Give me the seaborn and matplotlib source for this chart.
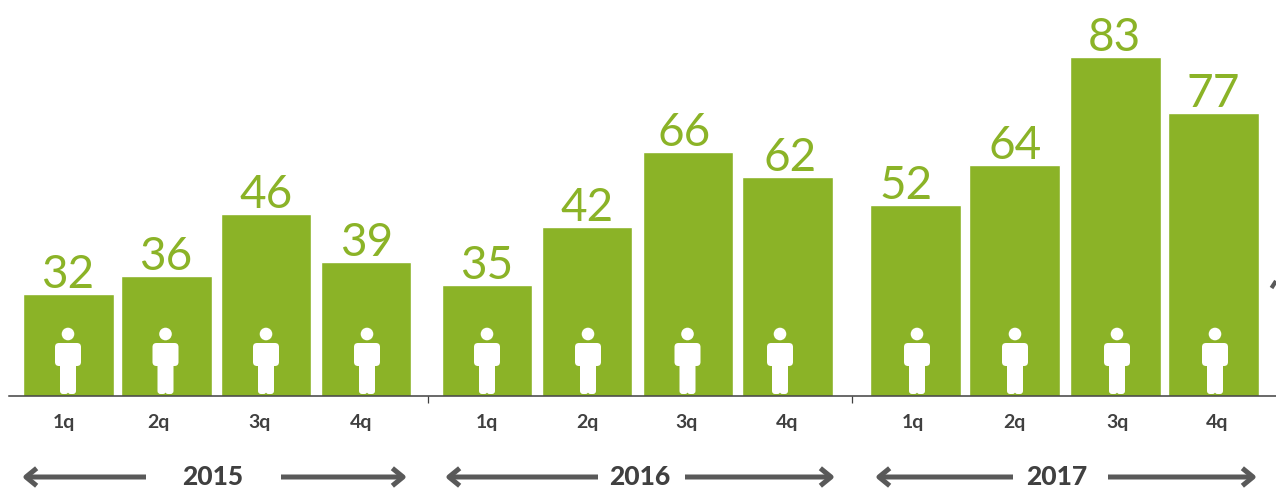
import pandas as pd
import seaborn as sns
import matplotlib.pyplot as plt
from matplotlib.patches import Circle, FancyBboxPatch

# values printed over the bars
years = ['2015', '2016', '2017']
quarters = ['1q', '2q', '3q', '4q'] * 3
values = [32, 36, 46, 39, 35, 42, 66, 62, 52, 64, 83, 77]
# the bars are not drawn to scale with the labels, so heights are read separately
bar_heights = [102, 120, 182, 134, 111, 169, 244, 219, 191, 231, 339, 283]

# layout, in pixels of the 1276x489 picture
bar_x = [68.5, 166.5, 266, 366, 487, 587, 688, 787.5, 915.5, 1014.5, 1115.5, 1213.5]
value_x = [68, 166, 266, 367, 487, 587, 684, 790, 906, 1015, 1114, 1213]
icon_x = [68, 165.5, 266, 367, 487, 588, 687.5, 780, 917, 1015, 1117, 1215]
tick_x = [64, 158, 260, 361, 487, 587, 687, 787, 913, 1014, 1118, 1217]
sep_x = [427.5, 852]
year_x = [213, 640, 1057]
arrows = [(146, 22), (281, 407), (598, 445), (685, 835), (1013, 875), (1108, 1257)]

GREEN = '#8bb327'
DARK = '#404040'
ARROW = '#595959'

sns.set_theme(style='white')
plt.rcParams['font.family'] = ['Lato', 'DejaVu Sans']

df = pd.DataFrame({'x': bar_x, 'height': bar_heights})

fig = plt.figure(figsize=(12.76, 4.89), dpi=100)
ax = fig.add_axes([0, 0, 1, 1])
sns.barplot(data=df, x='x', y='height', native_scale=True, width=0.92,
            color=GREEN, saturation=1, errorbar=None, ax=ax, zorder=1)

ax.set_xlim(0, 1276)
ax.set_ylim(-92, 397)
ax.set_xlabel('')
ax.set_ylabel('')
ax.set_yticks([])
ax.patch.set_alpha(0)

# baseline and quarter labels
sns.despine(ax=ax, left=True)
ax.spines['bottom'].set_position(('data', 0))
ax.spines['bottom'].set_bounds(9, 1276)
ax.spines['bottom'].set_color(DARK)
ax.spines['bottom'].set_linewidth(1.1)
ax.spines['bottom'].set_zorder(3)
ax.set_xticks(tick_x)
ax.set_xticklabels(quarters, fontsize=14, fontweight='bold', color=DARK)
ax.tick_params(axis='x', which='major', length=0, pad=12)
ax.set_xticks(sep_x, minor=True)
ax.tick_params(axis='x', which='minor', length=5, width=0.9, color=DARK, bottom=True)

for x, h, v in zip(value_x, bar_heights, values):
    ax.text(x, h + 20, str(v), ha='center', va='center', fontsize=33, color=GREEN)

# little white person on each bar
for x in icon_x:
    ax.add_patch(Circle((x, 62), 6.3, color='white', lw=0, zorder=2))
    ax.add_patch(FancyBboxPatch((x - 13, 30), 26, 23, boxstyle='round,pad=0,rounding_size=4',
                                fc='white', ec='none', zorder=2))
    for leg in (x - 8, x - 0.5):
        ax.add_patch(FancyBboxPatch((leg, 2), 8.5, 34, boxstyle='round,pad=0,rounding_size=3',
                                    fc='white', ec='none', zorder=2))

# year labels with arrows
for x, y in zip(year_x, years):
    ax.text(x, -88, y, ha='center', va='baseline', fontsize=19, fontweight='black', color=DARK)
for start, end in arrows:
    ax.annotate('', xy=(end, -81), xytext=(start, -81),
                arrowprops=dict(arrowstyle='->,head_length=0.55,head_width=0.45', color=ARROW,
                                lw=3.6, shrinkA=0, shrinkB=0, mutation_scale=14, capstyle='butt'))

# cut off arrow at the right edge of the picture
ax.plot([1271.5, 1276], [108, 115], color=ARROW, lw=3, clip_on=True, solid_capstyle='butt')

fig.savefig('out.png', dpi=100)
